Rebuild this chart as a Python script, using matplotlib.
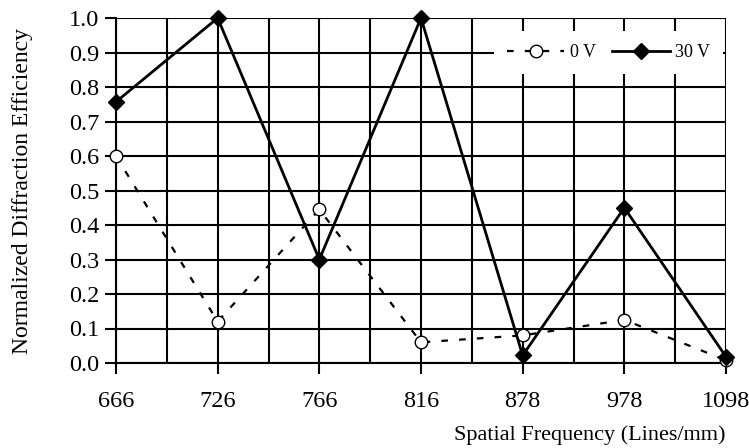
import matplotlib
matplotlib.use("Agg")
import matplotlib.pyplot as plt
from matplotlib.ticker import FixedLocator

plt.rcParams['font.family'] = ['Liberation Serif', 'DejaVu Serif']

categories = ["666", "726", "766", "816", "878", "978", "1098"]
v0 = [0.60, 0.12, 0.445, 0.06, 0.08, 0.125, 0.008]
v30 = [0.757, 1.0, 0.30, 1.0, 0.022, 0.45, 0.018]
yticks = [0.0, 0.1, 0.2, 0.3, 0.4, 0.5, 0.6, 0.7, 0.8, 0.9, 1.0]

fig = plt.figure(figsize=(7.49, 4.48), dpi=100)
ax = fig.add_axes([116/749, 1 - 363/448, (726-116)/749, (363-18)/448])

x = list(range(len(categories)))
ax.plot(x, v0, linestyle=(0, (3, 5)), color='black', linewidth=1.6,
        marker='o', markersize=9, markerfacecolor='white', markeredgecolor='black',
        markeredgewidth=1.0, label='0 V', zorder=3, clip_on=False)
ax.plot(x, v30, linestyle='-', color='black', linewidth=2.0,
        marker='D', markersize=8, markerfacecolor='black', markeredgecolor='black',
        label='30 V', zorder=4, clip_on=False)

ax.set_xlim(0, len(categories) - 1)
ax.set_ylim(0, 1.0)
ax.set_xticks(x)
ax.set_xticklabels(categories)
ax.xaxis.set_minor_locator(FixedLocator([i + 0.5 for i in range(len(categories) - 1)]))
ax.set_yticks(yticks)
ax.set_yticklabels([f"{v:.1f}" for v in yticks])

ax.grid(True, which='both', axis='x', color='black', linewidth=1.5)
ax.grid(True, which='major', axis='y', color='black', linewidth=1.5)
ax.set_axisbelow(True)
for s in ax.spines.values():
    s.set_visible(False)
ax.spines['left'].set_visible(True)
ax.spines['left'].set_linewidth(1.5)
ax.spines['bottom'].set_visible(True)
ax.spines['bottom'].set_linewidth(1.5)

ax.tick_params(axis='both', which='major', direction='out', length=8, width=1.5,
               labelsize=17.5, colors='black')
ax.tick_params(axis='x', which='major', pad=12)
ax.tick_params(axis='y', which='major', pad=4)
ax.tick_params(axis='x', which='minor', length=0)

ax.set_ylabel("Normalized Diffraction Efficiency", fontsize=17, labelpad=26)
ax.set_xlabel("Spatial Frequency (Lines/mm)", fontsize=16, loc='right', labelpad=10)

leg = ax.legend(loc='center right', bbox_to_anchor=(0.995, 0.9), ncol=2, frameon=True,
                fontsize=13, handlelength=3.2, columnspacing=0.9, handletextpad=0.3,
                borderpad=0.7, borderaxespad=0.0, framealpha=1.0)
leg.get_frame().set_edgecolor('white')
leg.get_frame().set_linewidth(0)

fig.savefig("out.png", dpi=100)
